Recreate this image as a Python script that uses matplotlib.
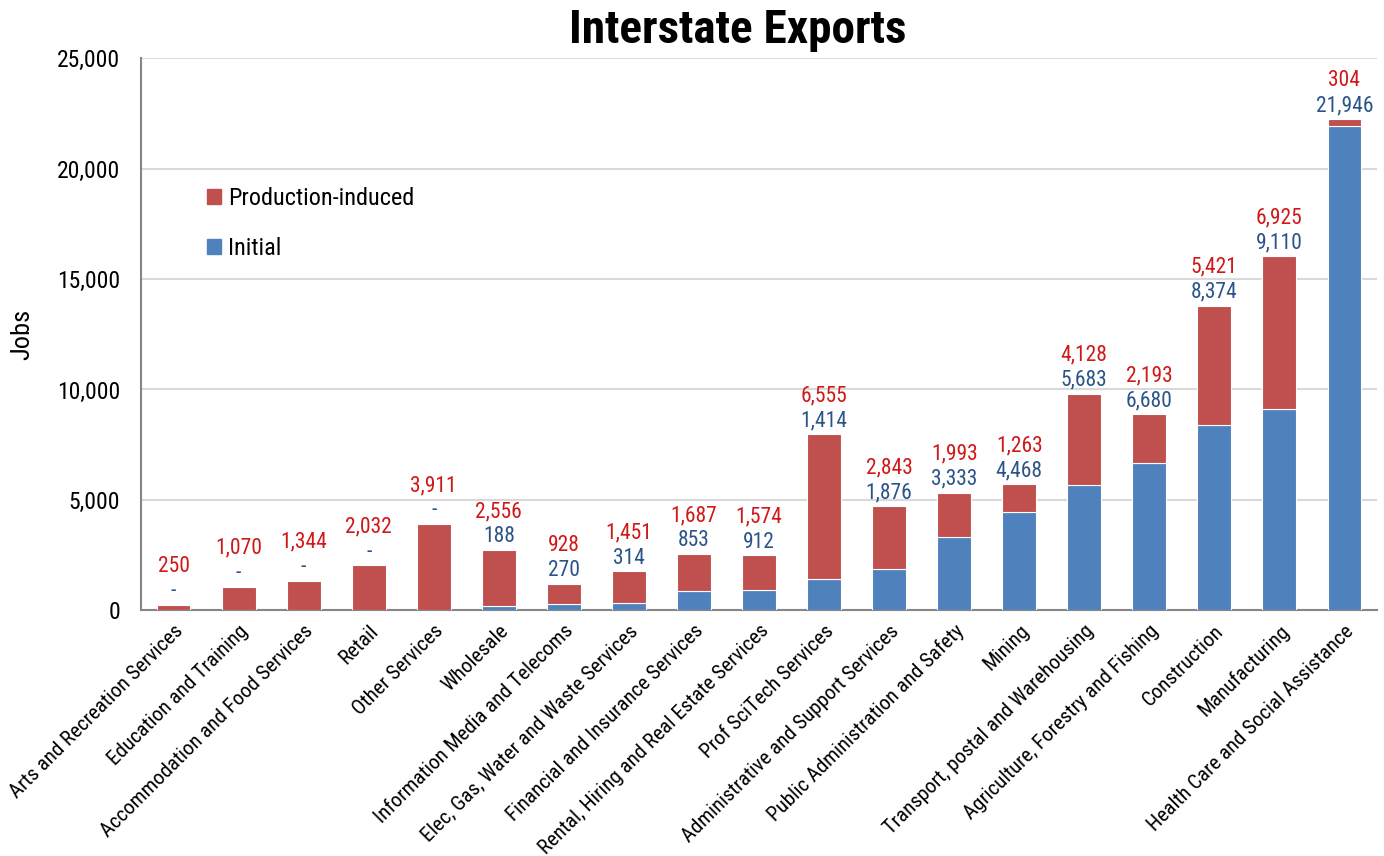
import matplotlib
matplotlib.use('Agg')
import matplotlib.pyplot as plt
import numpy as np
from matplotlib.patches import Patch

plt.rcParams['font.family'] = ['Roboto Condensed', 'DejaVu Sans']

industries = ['Arts and Recreation Services', 'Education and Training',
              'Accommodation and Food Services', 'Retail', 'Other Services',
              'Wholesale', 'Information Media and Telecoms',
              'Elec, Gas, Water and Waste Services',
              'Financial and Insurance Services',
              'Rental, Hiring and Real Estate Services', 'Prof SciTech Services',
              'Administrative and Support Services',
              'Public Administration and Safety', 'Mining',
              'Transport, postal and Warehousing',
              'Agriculture, Forestry and Fishing', 'Construction',
              'Manufacturing', 'Health Care and Social Assistance']
initial = [0, 0, 0, 0, 0, 188, 270, 314, 853, 912, 1414, 1876, 3333, 4468,
           5683, 6680, 8374, 9110, 21946]
production = [250, 1070, 1344, 2032, 3911, 2556, 928, 1451, 1687, 1574, 6555,
              2843, 1993, 1263, 4128, 2193, 5421, 6925, 304]

blue = '#4F81BD'
red = '#C0504D'

fig = plt.figure(figsize=(13.84, 8.56), dpi=100)
ax = fig.add_axes([0.1019, 0.287, 0.893, 0.645])

x = np.arange(len(industries))
ax.bar(x, initial, width=0.52, color=blue, edgecolor='white', linewidth=0.8, zorder=3)
ax.bar(x, production, width=0.52, bottom=initial, color=red, edgecolor='white',
       linewidth=0.8, zorder=3)

def fmt(v):
    return '-' if v == 0 else '{:,}'.format(v)

# value labels: initial just above the stack, production-induced above that
for i in range(len(x)):
    top = initial[i] + production[i]
    ax.annotate(fmt(initial[i]), (x[i], top), xytext=(0, 2), textcoords='offset points',
                ha='center', va='bottom', fontsize=15.5, color='#2A5488')
    ax.annotate(fmt(production[i]), (x[i], top), xytext=(0, 20), textcoords='offset points',
                ha='center', va='bottom', fontsize=15.5, color='#D01818')

ax.set_xlim(-0.5, len(x) - 0.5)
ax.set_ylim(0, 25000)
ax.set_yticks(np.arange(0, 25001, 5000))
ax.set_yticklabels(['{:,}'.format(v) for v in range(0, 25001, 5000)], fontsize=17)
ax.yaxis.grid(True, color='#D9D9D9', linewidth=1.5, zorder=0)
ax.set_axisbelow(True)
ax.tick_params(axis='y', length=0, pad=15)
ax.tick_params(axis='x', length=0, pad=8)
ax.set_xticks(x)
ax.set_xticklabels(industries, rotation=45, ha='right', rotation_mode='anchor',
                   fontsize=15)
for s in ['top', 'right']:
    ax.spines[s].set_visible(False)
for s in ['left', 'bottom']:
    ax.spines[s].set_color('#868686')
    ax.spines[s].set_linewidth(1.5)

ax.set_ylabel('Jobs', fontsize=19, labelpad=16)
fig.text(0.533, 0.965, 'Interstate Exports', fontsize=34, fontweight='bold',
         ha='center', va='center')

handles = [Patch(color=red, label='Production-induced'), Patch(color=blue, label='Initial')]
ax.legend(handles=handles, loc='upper left', bbox_to_anchor=(0.036, 0.806), frameon=False,
          fontsize=17.5, handlelength=0.55, handleheight=0.55, handletextpad=0.3,
          labelspacing=1.1)

fig.savefig('out.png', dpi=100)
